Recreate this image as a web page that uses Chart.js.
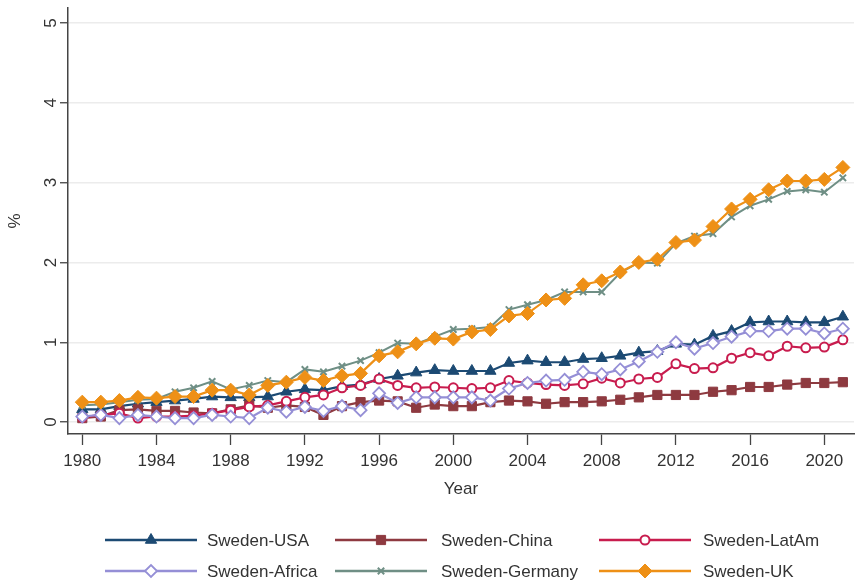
<!DOCTYPE html>
<html>
<head>
<meta charset="utf-8">
<script src="https://cdn.jsdelivr.net/npm/chart.js@4.4.0/dist/chart.umd.min.js"></script>
<style>
  html, body { margin: 0; padding: 0; background: #fff; }
  #wrap { width: 862px; height: 584px; }
</style>
</head>
<body>
<div id="wrap"><canvas id="chart" width="862" height="584"></canvas></div>
<script>
// data (share, %)
var years = [];
for (var y = 1980; y <= 2021; y++) years.push(y);

var usa = [0.16, 0.16, 0.20, 0.23, 0.25, 0.27, 0.29, 0.32, 0.31, 0.31,
           0.32, 0.38, 0.41, 0.40, 0.45, 0.47, 0.54, 0.58, 0.62, 0.65,
           0.64, 0.64, 0.64, 0.74, 0.77, 0.75, 0.75, 0.79, 0.80, 0.83,
           0.87, 0.89, 0.98, 0.97, 1.08, 1.14, 1.25, 1.26, 1.26, 1.25,
           1.25, 1.32];
var china = [0.05, 0.07, 0.15, 0.16, 0.14, 0.14, 0.12, 0.11, 0.16, 0.21,
             0.18, 0.21, 0.19, 0.09, 0.20, 0.25, 0.27, 0.26, 0.18, 0.22,
             0.20, 0.20, 0.25, 0.27, 0.26, 0.23, 0.25, 0.25, 0.26, 0.28,
             0.31, 0.34, 0.34, 0.34, 0.38, 0.40, 0.44, 0.44, 0.47, 0.49,
             0.49, 0.50];
var latam = [0.06, 0.09, 0.11, 0.05, 0.07, 0.07, 0.08, 0.11, 0.15, 0.19,
             0.21, 0.26, 0.31, 0.34, 0.43, 0.46, 0.54, 0.46, 0.43, 0.44,
             0.43, 0.42, 0.43, 0.52, 0.49, 0.47, 0.46, 0.48, 0.55, 0.49,
             0.54, 0.56, 0.73, 0.67, 0.68, 0.80, 0.87, 0.83, 0.95, 0.93,
             0.94, 1.03];
var africa = [0.07, 0.09, 0.05, 0.09, 0.07, 0.05, 0.05, 0.09, 0.07, 0.05,
              0.18, 0.13, 0.19, 0.14, 0.20, 0.15, 0.36, 0.24, 0.31, 0.31,
              0.31, 0.31, 0.27, 0.42, 0.49, 0.52, 0.53, 0.63, 0.60, 0.66,
              0.76, 0.88, 1.00, 0.92, 0.99, 1.07, 1.14, 1.14, 1.17, 1.17,
              1.11, 1.17];
var germany = [0.21, 0.22, 0.25, 0.28, 0.29, 0.38, 0.43, 0.51, 0.41, 0.46,
               0.52, 0.50, 0.66, 0.63, 0.70, 0.77, 0.87, 0.99, 0.98, 1.07,
               1.16, 1.17, 1.19, 1.41, 1.47, 1.53, 1.63, 1.63, 1.63, 1.87,
               2.00, 1.99, 2.24, 2.33, 2.36, 2.57, 2.71, 2.79, 2.89, 2.91,
               2.88, 3.06];
var uk = [0.25, 0.25, 0.27, 0.31, 0.30, 0.32, 0.32, 0.40, 0.40, 0.34,
          0.46, 0.50, 0.56, 0.52, 0.58, 0.61, 0.83, 0.88, 0.98, 1.05,
          1.04, 1.13, 1.16, 1.33, 1.36, 1.53, 1.55, 1.72, 1.77, 1.88,
          2.00, 2.04, 2.25, 2.28, 2.45, 2.67, 2.79, 2.91, 3.02, 3.02,
          3.04, 3.19];

var xTicks = [1980, 1984, 1988, 1992, 1996, 2000, 2004, 2008, 2012, 2016, 2020];
var yTicks = [0, 1, 2, 3, 4, 5];
var seriesNames = ['Sweden-USA', 'Sweden-China', 'Sweden-LatAm', 'Sweden-Africa', 'Sweden-Germany', 'Sweden-UK'];

var FONT = "'Liberation Sans', Arial, sans-serif";
Chart.defaults.font.family = FONT;
Chart.defaults.font.size = 17;
Chart.defaults.color = '#333';

function pts(vals) {
    return vals.map(function(v, i) { return { x: years[i], y: v }; });
}

// line colour, marker style, marker size, marker fill
var styles = [
    { color: '#1c4a73', point: 'triangle', r: 6.5, fill: '#1c4a73', bw: 1, lw: 2.2 },
    { color: '#8e3a40', point: 'rect', r: 6.5, fill: '#8e3a40', bw: 1, lw: 2.2 },
    { color: '#c81c4e', point: 'circle', r: 4.5, fill: '#ffffff', bw: 2, lw: 2.2 },
    { color: '#958fd6', point: 'rectRot', r: 6, fill: '#ffffff', bw: 1.8, lw: 2.2 },
    { color: '#6f8f85', point: 'crossRot', r: 4.5, fill: '#6f8f85', bw: 2, lw: 2 },
    { color: '#ee9016', point: 'rectRot', r: 7, fill: '#ee9016', bw: 1, lw: 2.2 }
];
var allData = [usa, china, latam, africa, germany, uk];

var datasets = allData.map(function(vals, i) {
    var s = styles[i];
    return {
        label: seriesNames[i],
        data: pts(vals),
        borderColor: s.color,
        borderWidth: s.lw,
        pointStyle: s.point,
        pointRadius: s.r,
        pointBackgroundColor: s.fill,
        pointBorderColor: s.color,
        pointBorderWidth: s.bw,
        tension: 0,
        order: 6 - i   // later series drawn on top
    };
});

// legend drawn under the axis, 3 columns x 2 rows, line + marker
var legendPlugin = {
    id: 'stataLegend',
    afterDraw: function(chart) {
        var ctx = chart.ctx;
        var cols = [{ x0: 105, x1: 197, tx: 207 }, { x0: 335, x1: 427, tx: 441 }, { x0: 599, x1: 691, tx: 703 }];
        var rows = [540, 571];
        ctx.save();
        for (var i = 0; i < seriesNames.length; i++) {
            var c = cols[i % 3], yy = rows[Math.floor(i / 3)], s = styles[i];
            ctx.strokeStyle = s.color;
            ctx.lineWidth = 2.5;
            ctx.beginPath();
            ctx.moveTo(c.x0, yy);
            ctx.lineTo(c.x1, yy);
            ctx.stroke();
            ctx.fillStyle = s.fill;
            ctx.lineWidth = s.bw;
            Chart.helpers.drawPoint(ctx, { pointStyle: s.point, radius: s.r, rotation: 0, borderWidth: s.bw }, (c.x0 + c.x1) / 2, yy);
            ctx.fillStyle = '#333';
            ctx.font = '17px ' + FONT;
            ctx.textAlign = 'left';
            ctx.textBaseline = 'middle';
            ctx.fillText(seriesNames[i], c.tx, yy + 1);
        }
        ctx.restore();
    }
};

var ctx = document.getElementById('chart').getContext('2d');
var myChart = new Chart(ctx, {
    type: 'line',
    data: { datasets: datasets },
    options: {
        responsive: false,
        animation: false,
        layout: { padding: { left: 0, right: 0, top: 5, bottom: 70 } },
        plugins: { legend: { display: false }, tooltip: { enabled: false } },
        scales: {
            x: {
                type: 'linear',
                min: 1979.23,
                max: 2021.6,
                afterBuildTicks: function(scale) {
                    scale.ticks = xTicks.map(function(v) { return { value: v }; });
                },
                afterFit: function(scale) {
                    scale.height = 80;
                    scale.paddingLeft = 0;
                    scale.paddingRight = 0;
                },
                ticks: {
                    autoSkip: false, maxRotation: 0, padding: 6,
                    callback: function(v) { return String(v); }
                },
                grid: { drawOnChartArea: false, tickLength: 11, tickColor: '#444', tickWidth: 1.3 },
                border: { color: '#444', width: 1.5 },
                title: { display: true, text: 'Year', font: { size: 17 }, padding: { top: 0, bottom: 14 } }
            },
            y: {
                min: -0.149,
                max: 5.187,
                afterBuildTicks: function(scale) {
                    scale.ticks = yTicks.map(function(v) { return { value: v }; });
                },
                afterFit: function(scale) {
                    scale.width = 68;
                    scale.paddingTop = 0;
                    scale.paddingBottom = 0;
                },
                ticks: {
                    minRotation: 90, maxRotation: 90, crossAlign: 'center', padding: 4,
                    callback: function(v) { return String(v); }
                },
                grid: { color: '#ececec', lineWidth: 1.5, tickLength: 8, tickColor: '#444', tickWidth: 1.3 },
                border: { color: '#444', width: 1.5 },
                title: { display: true, text: '%', font: { size: 17 }, padding: { top: 5, bottom: 0 } }
            }
        }
    },
    plugins: [legendPlugin]
});
</script>
</body>
</html>
